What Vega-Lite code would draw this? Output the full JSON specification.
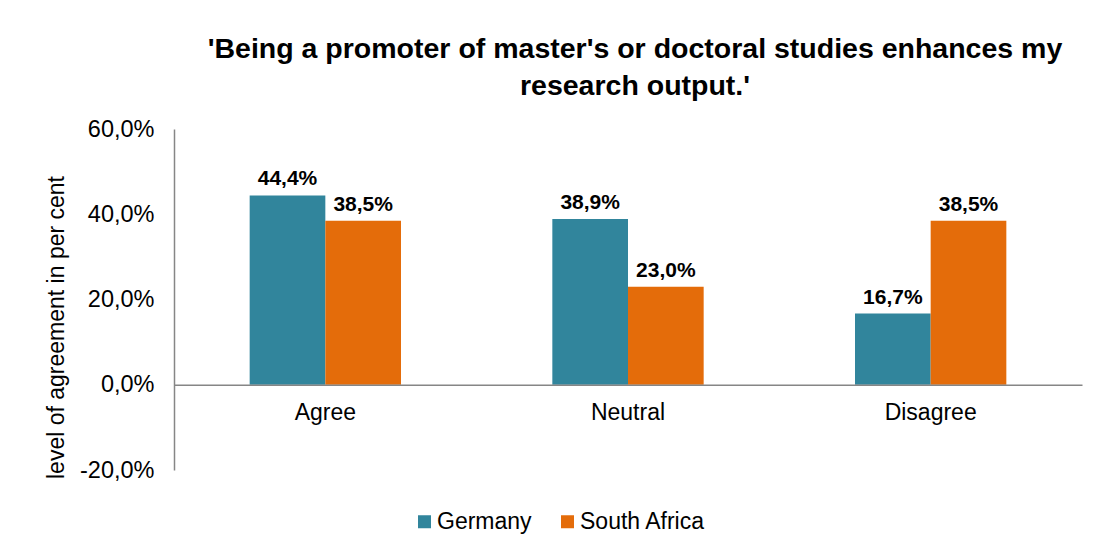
{
  "$schema": "https://vega.github.io/schema/vega-lite/v6.json",
  "autosize": "none",
  "width": 908,
  "height": 341,
  "padding": {"left": 174, "top": 129, "right": 20, "bottom": 84},
  "background": "white",
  "title": {
    "text": ["'Being a promoter of master's or doctoral studies enhances my", "research output.'"],
    "fontSize": 28.5,
    "fontWeight": "bold",
    "font": "Liberation Sans",
    "color": "black",
    "anchor": "middle",
    "lineHeight": 37,
    "dx": 7,
    "offset": 17
  },
  "data": {
    "values": [
      {"category": "Agree", "country": "Germany", "value": 0.444},
      {"category": "Agree", "country": "South Africa", "value": 0.385},
      {"category": "Neutral", "country": "Germany", "value": 0.389},
      {"category": "Neutral", "country": "South Africa", "value": 0.230},
      {"category": "Disagree", "country": "Germany", "value": 0.167},
      {"category": "Disagree", "country": "South Africa", "value": 0.385}
    ]
  },
  "encoding": {
    "x": {
      "field": "category",
      "type": "nominal",
      "sort": ["Agree", "Neutral", "Disagree"],
      "scale": {"paddingInner": 0.5, "paddingOuter": 0.25},
      "axis": {
        "title": null,
        "orient": "bottom",
        "offset": -85.25,
        "domainColor": "#868686",
        "domainWidth": 1.5,
        "ticks": false,
        "labelAngle": 0,
        "labelFontSize": 23,
        "labelColor": "black",
        "labelPadding": 17,
        "zindex": 1
      }
    },
    "xOffset": {"field": "country", "type": "nominal", "scale": {"paddingInner": 0, "paddingOuter": 0}},
    "y": {
      "field": "value",
      "type": "quantitative",
      "scale": {"domain": [-0.2, 0.6], "nice": false, "zero": false},
      "axis": {
        "title": "level of agreement in per cent",
        "values": [-0.2, 0, 0.2, 0.4, 0.6],
        "format": ".1%",
        "grid": false,
        "ticks": false,
        "domainColor": "#868686",
        "domainWidth": 1.5,
        "labelFontSize": 23.5,
        "labelColor": "black",
        "labelPadding": 20,
        "titleFontSize": 23,
        "titleFontWeight": "normal",
        "titleColor": "black",
        "titleX": -106,
        "titleY": 198,
        "titleAngle": -90
      }
    }
  },
  "layer": [
    {
      "mark": {"type": "bar"},
      "encoding": {
        "color": {
          "field": "country",
          "type": "nominal",
          "scale": {"domain": ["Germany", "South Africa"], "range": ["#31859C", "#E46C0A"]},
          "legend": {
            "title": null,
            "orient": "none",
            "direction": "horizontal",
            "legendX": 239,
            "legendY": 381,
            "symbolType": "square",
            "symbolSize": 169,
            "symbolStrokeWidth": 0,
            "labelFontSize": 23,
            "labelColor": "black",
            "labelOffset": 1,
            "columnPadding": 24
          }
        }
      }
    },
    {
      "mark": {"type": "text", "fontSize": 21, "fontWeight": "bold", "baseline": "alphabetic", "dy": -10, "color": "black"},
      "encoding": {
        "text": {"field": "value", "type": "quantitative", "format": ".1%"}
      }
    }
  ],
  "config": {
    "font": "Liberation Sans",
    "view": {"stroke": null},
    "locale": {"number": {"decimal": ",", "thousands": ".", "grouping": [3], "currency": ["", " €"], "minus": "-"}}
  }
}
